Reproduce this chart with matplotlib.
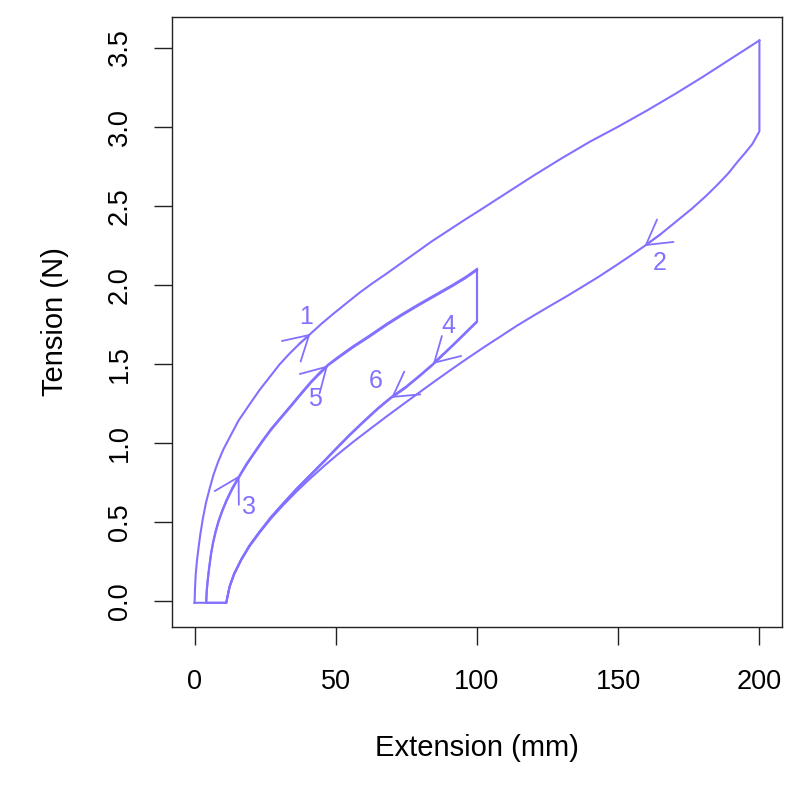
import matplotlib
matplotlib.use("Agg")
import matplotlib.pyplot as plt
import numpy as np

# ---- data ----
# Curve 1: first loading 0 -> 200 mm
load1_x = [0, 0.15, 0.4, 0.8, 1.2, 2.0, 2.9, 4.0, 5.3, 6.7, 8.3, 10.2, 12.4, 15.5, 19.5, 23, 26.5,
           30, 33.6, 37, 41.0, 45, 49, 53.5, 58.4, 63, 67.9, 73, 78.5, 84, 90, 96, 100, 110, 120,
           130, 140, 150, 160, 170, 180, 190, 200]
load1_y = [-0.01, 0.08, 0.17, 0.25, 0.31, 0.42, 0.52, 0.62, 0.71, 0.80, 0.88, 0.96, 1.035, 1.14,
           1.245, 1.335, 1.415, 1.495, 1.565, 1.625, 1.69, 1.755, 1.815, 1.88, 1.95, 2.01, 2.07,
           2.135, 2.205, 2.275, 2.345, 2.415, 2.46, 2.575, 2.69, 2.80, 2.905, 3.0, 3.10, 3.205,
           3.315, 3.43, 3.545]
# Curve 2: relaxation at 200 mm then unloading to slack
unload2_x = [200, 200, 197.5, 195, 192, 189, 185, 181, 176, 170.5, 165, 159.3, 154, 149, 143,
             137.5, 131.5, 125.7, 120, 114, 108, 103, 97, 91, 85, 79.6, 74, 68, 62, 56, 51, 46,
             41, 36, 31.5, 27, 23, 19.5, 16.5, 14, 12.4, 11.2, 0]
unload2_y = [3.545, 2.97, 2.89, 2.835, 2.772, 2.705, 2.63, 2.56, 2.48, 2.40, 2.32, 2.245, 2.18,
             2.12, 2.05, 1.99, 1.925, 1.865, 1.805, 1.74, 1.67, 1.612, 1.54, 1.466, 1.39, 1.32,
             1.247, 1.168, 1.087, 1.005, 0.933, 0.857, 0.777, 0.692, 0.61, 0.522, 0.433, 0.348,
             0.26, 0.17, 0.09, -0.01, -0.01]
# Curve 3: second loading to 100 mm
load3_x = [4.1, 4.3, 4.7, 5.2, 5.8, 6.5, 7.4, 8.5, 9.8, 11.3, 13.2, 15.9, 18.5, 21.2, 24, 27.1,
           30.5, 34.2, 37.7, 41.3, 44.3, 47.2, 51.5, 56, 62, 67.9, 73.5, 79.6, 85.5, 91.4, 96, 100]
load3_y = [-0.01, 0.07, 0.144, 0.22, 0.30, 0.37, 0.44, 0.51, 0.575, 0.64, 0.71, 0.795, 0.872,
           0.943, 1.015, 1.09, 1.162, 1.24, 1.315, 1.39, 1.445, 1.495, 1.553, 1.61, 1.68, 1.752,
           1.815, 1.88, 1.94, 2.0, 2.05, 2.10]
# Curve 4: relaxation at 100 mm then unloading
unload4_x = [100, 100, 96, 92, 88, 84.4, 80, 75, 69.6, 65, 60, 55, 50.2, 46, 41, 36, 31.5, 27, 23,
             19.5, 16.5, 14, 12.4, 11.2, 4.1]
unload4_y = [2.10, 1.77, 1.70, 1.63, 1.562, 1.50, 1.432, 1.358, 1.29, 1.222, 1.14, 1.055, 0.968,
             0.89, 0.80, 0.71, 0.622, 0.532, 0.44, 0.355, 0.265, 0.175, 0.095, -0.01, -0.01]
# Curve 5: third loading to 100 mm
load5_x = [4.1, 4.3, 4.7, 5.2, 5.8, 6.5, 7.4, 8.5, 9.8, 11.3, 13.2, 15.9, 18.5, 21.2, 24, 27.1,
           30.5, 34.2, 37.7, 41.3, 44.3, 47.2, 51.5, 56, 62, 67.9, 73.5, 79.6, 85.5, 91.4, 96, 100]
load5_y = [-0.01, 0.065, 0.138, 0.214, 0.293, 0.363, 0.433, 0.503, 0.568, 0.633, 0.703, 0.788,
           0.865, 0.936, 1.008, 1.083, 1.155, 1.233, 1.308, 1.383, 1.438, 1.49, 1.546, 1.603, 1.673,
           1.745, 1.808, 1.873, 1.933, 1.993, 2.043, 2.093]
# Curve 6: relaxation at 100 mm then unloading
unload6_x = [100, 100, 96, 92, 88, 84.4, 80, 75, 69.6, 65, 60, 55, 50.2, 46, 41, 36, 31.5, 27, 23,
             19.5, 16.5, 14, 12.4, 11.2]
unload6_y = [2.093, 1.765, 1.695, 1.625, 1.557, 1.495, 1.427, 1.353, 1.285, 1.217, 1.135, 1.05,
             0.963, 0.885, 0.795, 0.705, 0.618, 0.528, 0.437, 0.352, 0.262, 0.172, 0.092, -0.01]

curves = [(load1_x, load1_y), (unload2_x, unload2_y), (load3_x, load3_y),
          (unload4_x, unload4_y), (load5_x, load5_y), (unload6_x, unload6_y)]
labels = ["1", "2", "3", "4", "5", "6"]
# extension (mm) at which each arrow head sits on its curve
arrow_at = [41.0, 159.3, 15.9, 84.4, 47.2, 69.6]
# label offsets from the arrow tip (points)
label_dx = [-3.4, 10.8, 7.2, 10.8, -9.1, -10.8]
label_dy = [12.0, -12.0, -22.8, 27.6, -24.0, 12.0]

color = "#8271FF"

plt.rcParams["font.family"] = ["Liberation Sans", "DejaVu Sans"]
fig = plt.figure(figsize=(8.0, 7.99), dpi=100)
ax = fig.add_axes([172 / 800, 1 - 627 / 799, 610 / 800, 610 / 799])

for cx, cy in curves:
    ax.plot(cx, cy, color=color, lw=1.5, solid_joinstyle="round")

for (cx, cy), lab, xa, dx, dy in zip(curves, labels, arrow_at, label_dx, label_dy):
    k = int(np.argmin(np.abs(np.array(cx[1:]) - xa))) + 1
    tip = (cx[k], cy[k])
    tail = (cx[k - 1], cy[k - 1])
    ax.annotate("", xy=tip, xytext=tail,
                arrowprops=dict(arrowstyle="->,head_length=17.3,head_width=10",
                                mutation_scale=1, color=color, lw=1.3,
                                shrinkA=0, shrinkB=0))
    ax.annotate(lab, xy=tip, xytext=(dx, dy), textcoords="offset points",
                ha="center", va="center", color=color, fontsize=18)

ax.set_xlim(-8, 208)
ax.set_ylim(-0.163, 3.693)
ax.set_xticks([0, 50, 100, 150, 200])
ax.set_yticks([0.0, 0.5, 1.0, 1.5, 2.0, 2.5, 3.0, 3.5])
ax.set_yticklabels(["0.0", "0.5", "1.0", "1.5", "2.0", "2.5", "3.0", "3.5"])
ax.tick_params(axis="both", direction="out", length=13, width=1.0, labelsize=19.5, color="#222222")
ax.tick_params(axis="x", pad=17)
ax.tick_params(axis="y", pad=15, labelrotation=90)
for lbl in ax.get_yticklabels():
    lbl.set_va("center")
for s in ax.spines.values():
    s.set_linewidth(1.0)
    s.set_color("#222222")

ax.set_xlabel("Extension (mm)", fontsize=21)
ax.set_ylabel("Tension (N)", fontsize=21)
ax.xaxis.set_label_coords(0.5, (627 - 748) / 610)
ax.xaxis.label.set_va("center")
ax.yaxis.set_label_coords((55 - 172) / 610, 0.5)
ax.yaxis.label.set_va("center")
ax.yaxis.label.set_ha("center")

fig.savefig("out.png", dpi=100, facecolor="white")
